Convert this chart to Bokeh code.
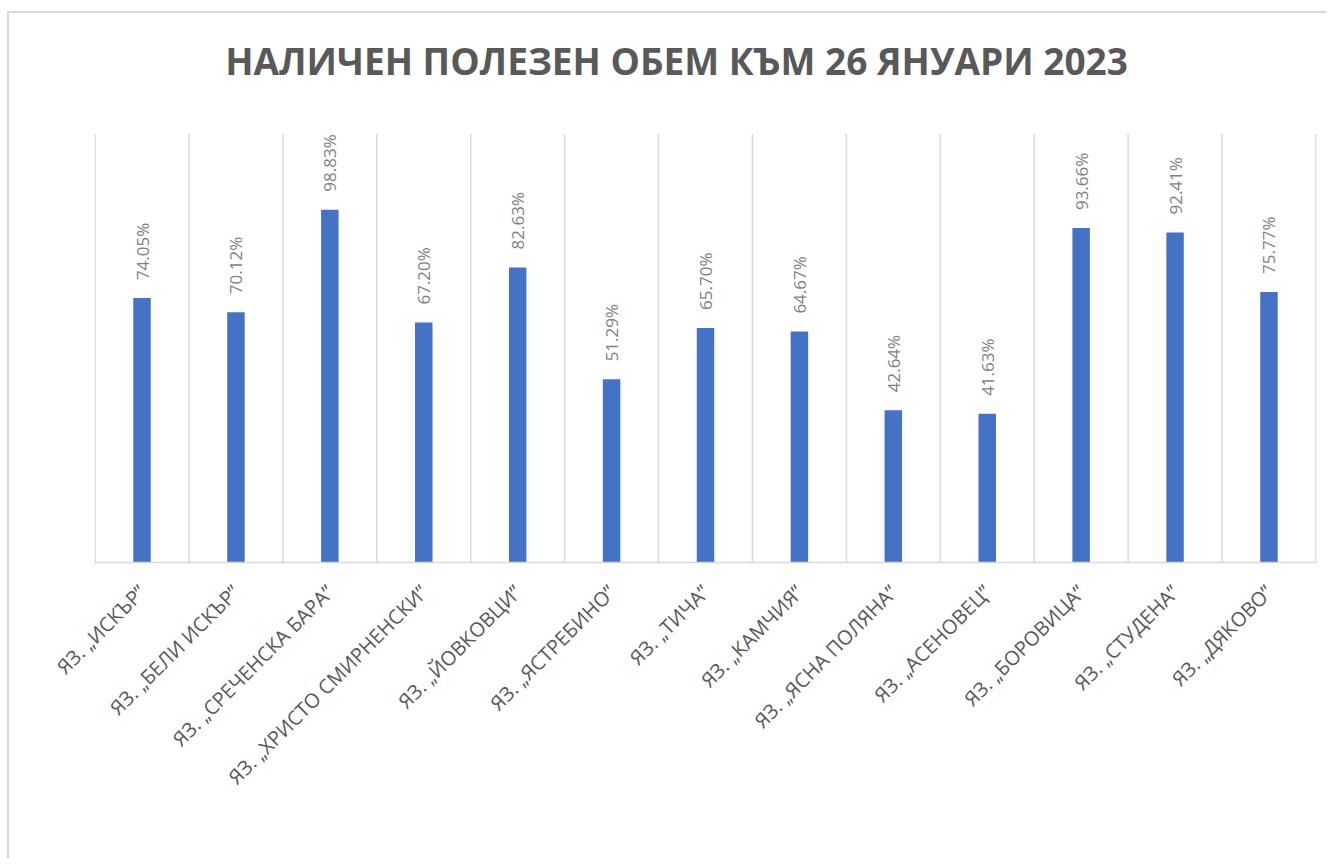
import math
from bokeh.plotting import figure
from bokeh.models import FixedTicker, Range1d, ColumnDataSource, Label
from bokeh.core.properties import value
from bokeh.embed import file_html
from bokeh.resources import INLINE

title_text = "НАЛИЧЕН ПОЛЕЗЕН ОБЕМ КЪМ 26 ЯНУАРИ 2023"

categories = [
    "ЯЗ. „ИСКЪР”",
    "ЯЗ. „БЕЛИ ИСКЪР”",
    "ЯЗ. „СРЕЧЕНСКА БАРА”",
    "ЯЗ. „ХРИСТО СМИРНЕНСКИ”",
    "ЯЗ. „ЙОВКОВЦИ”",
    "ЯЗ. „ЯСТРЕБИНО”",
    "ЯЗ. „ТИЧА”",
    "ЯЗ. „КАМЧИЯ”",
    "ЯЗ. „ЯСНА ПОЛЯНА”",
    "ЯЗ. „АСЕНОВЕЦ”",
    "ЯЗ. „БОРОВИЦА”",
    "ЯЗ. „СТУДЕНА”",
    "ЯЗ. „ДЯКОВО”",
]

volume_pct = [74.05, 70.12, 98.83, 67.20, 82.63, 51.29, 65.70, 64.67,
              42.64, 41.63, 93.66, 92.41, 75.77]

value_labels = [f"{v:.2f}%" for v in volume_pct]

axis_max = 120  # top of the value axis (category separator lines end here)

n = len(categories)
xpos = [i + 0.5 for i in range(n)]
separators = list(range(n + 1))

src = ColumnDataSource(dict(x=xpos, top=volume_pct, label=value_labels))
sep_src = ColumnDataSource(dict(x=separators,
                                y0=[0] * len(separators),
                                y1=[axis_max] * len(separators)))

FONT = "Open Sans"

p = figure(
    width=1326, height=859,
    x_range=Range1d(-0.006, n + 0.006),
    y_range=Range1d(0, 151.8),
    output_backend="svg",
    toolbar_location=None,
    min_border_left=94, min_border_right=10,
    min_border_top=20, min_border_bottom=297,
)
p.border_fill_color = None
p.outline_line_color = None
p.background_fill_color = None
p.styles = {"box-shadow": "inset 7px 11px 0 0 white, inset 9px 13px 0 0 #D9D9D9"}

# category separator lines (vertical gridlines of the original chart)
p.segment(x0="x", y0="y0", x1="x", y1="y1", source=sep_src,
          line_color="#D9D9D9", line_width=1.5)

# chart title, in screen units relative to the plot frame
title_label = Label(
    x=582, y=502, x_units="screen", y_units="screen",
    text=title_text, text_align="center", text_baseline="middle",
    text_font=FONT, text_font_size="37px", text_font_style="bold",
    text_color="#595959",
)
p.add_layout(title_label)

p.vbar(x="x", top="top", width=0.186, source=src, color="#4472C4", line_color=None)

p.text(x="x", y="top", text="label", source=src, angle=math.pi / 2,
       text_align="left", text_baseline="middle", y_offset=-18,
       text_font=value(FONT), text_font_size="17px", text_color="#7F7F7F")

p.yaxis.visible = False
p.ygrid.visible = False
p.xgrid.visible = False

p.xaxis.ticker = FixedTicker(ticks=xpos)
p.xaxis.major_label_overrides = {x: c for x, c in zip(xpos, categories)}
p.xaxis.major_label_orientation = math.pi / 4
p.xaxis.major_label_text_font = FONT
p.xaxis.major_label_text_font_size = "20px"
p.xaxis.major_label_text_color = "#595959"
p.xaxis.major_tick_line_color = None
p.xaxis.minor_tick_line_color = None
p.xaxis.axis_line_color = "#D9D9D9"
p.xaxis.axis_line_width = 1.5
p.xaxis.major_label_standoff = 20

open("out.html", "w").write(file_html(p, INLINE))
